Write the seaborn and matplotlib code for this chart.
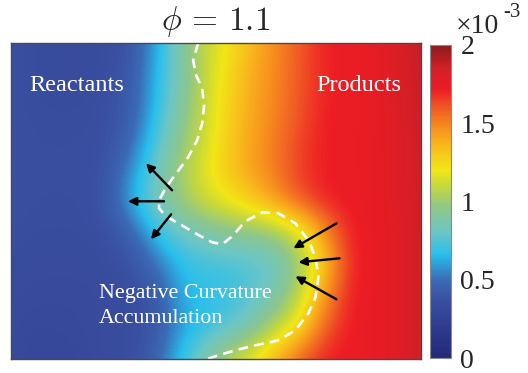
import numpy as np
import matplotlib
matplotlib.use("Agg")
import matplotlib.pyplot as plt
from matplotlib.colors import LinearSegmentedColormap
import seaborn as sns

# ---------------------------------------------------------------------------
# Sampled field (values in units of 1e-3) on a regular grid
# ---------------------------------------------------------------------------
x_nodes = [11, 35, 59, 83, 107, 131, 155, 179, 203, 227, 252, 276, 300, 324, 348, 372, 396, 420]
y_nodes = [43, 75, 106, 138, 169, 201, 233, 264, 296, 327, 359]

row_043 = [0.37, 0.35, 0.34, 0.34, 0.35, 0.39, 0.60, 0.88, 1.09, 1.20, 1.36, 1.48, 1.60, 1.71, 1.73, 1.74, 1.79, 1.90]
row_075 = [0.37, 0.35, 0.34, 0.34, 0.36, 0.42, 0.64, 0.86, 1.09, 1.25, 1.39, 1.49, 1.61, 1.70, 1.73, 1.74, 1.79, 1.88]
row_106 = [0.37, 0.35, 0.35, 0.35, 0.37, 0.43, 0.65, 0.90, 1.10, 1.27, 1.40, 1.50, 1.61, 1.71, 1.73, 1.74, 1.79, 1.88]
row_138 = [0.37, 0.36, 0.36, 0.36, 0.37, 0.47, 0.72, 0.95, 1.12, 1.28, 1.42, 1.52, 1.64, 1.72, 1.73, 1.74, 1.78, 1.87]
row_169 = [0.37, 0.36, 0.36, 0.36, 0.38, 0.57, 0.80, 1.02, 1.16, 1.31, 1.43, 1.53, 1.66, 1.72, 1.73, 1.74, 1.78, 1.86]
row_201 = [0.37, 0.36, 0.36, 0.36, 0.40, 0.64, 0.84, 0.99, 1.12, 1.20, 1.30, 1.45, 1.60, 1.71, 1.73, 1.74, 1.78, 1.86]
row_233 = [0.36, 0.35, 0.35, 0.35, 0.37, 0.45, 0.68, 0.80, 0.87, 0.93, 0.95, 1.00, 1.15, 1.45, 1.71, 1.74, 1.77, 1.86]
row_264 = [0.35, 0.34, 0.34, 0.34, 0.35, 0.38, 0.50, 0.66, 0.71, 0.72, 0.75, 0.80, 1.00, 1.30, 1.68, 1.74, 1.77, 1.86]
row_296 = [0.34, 0.33, 0.33, 0.33, 0.34, 0.35, 0.40, 0.62, 0.68, 0.69, 0.76, 0.88, 1.08, 1.45, 1.71, 1.74, 1.77, 1.86]
row_327 = [0.33, 0.32, 0.32, 0.33, 0.34, 0.35, 0.40, 0.58, 0.68, 0.76, 0.88, 1.06, 1.25, 1.58, 1.72, 1.74, 1.77, 1.86]
row_359 = [0.33, 0.31, 0.31, 0.32, 0.34, 0.36, 0.45, 0.68, 0.88, 1.08, 1.20, 1.40, 1.60, 1.72, 1.73, 1.74, 1.77, 1.86]

# Flame front (iso-line of progress variable)
front_x = [198, 193, 196, 202, 204, 202, 197, 188, 177, 166, 159, 159, 166, 180, 197, 212, 222,
           232, 245, 262, 278, 295, 308, 315, 318, 315, 308, 295, 278, 255, 235, 215, 206]
front_y = [43, 60, 75, 88, 105, 123, 140, 157, 172, 187, 200, 208, 216, 224, 234, 242, 244,
           236, 221, 212, 213, 223, 240, 257, 277, 297, 313, 330, 340, 345, 350, 356, 359]

# Propagation direction arrows (tail -> head)
arrow_tail_x = [172, 164, 171, 336, 339, 336]
arrow_tail_y = [190, 201, 214, 223, 258, 299]
arrow_head_x = [146, 128, 151, 293, 298, 295]
arrow_head_y = [163, 201, 239, 248, 262, 276]

cbar_ticks = [0, 0.5, 1, 1.5, 2]
cbar_ticklabels = ["0", "0.5", "1", "1.5", "2"]
title_text = r"$\phi\,=\,1.1$"

# ---------------------------------------------------------------------------
sns.set_style("white")
plt.rcParams["font.family"] = "serif"
plt.rcParams["font.serif"] = ["Liberation Serif", "Times New Roman", "DejaVu Serif"]
plt.rcParams["mathtext.fontset"] = "cm"
plt.rcParams["lines.scale_dashes"] = False

cmap = LinearSegmentedColormap.from_list(
    "flame",
    [(0.00, "#24287a"), (0.08, "#2c3889"), (0.18, "#3a4ea0"), (0.25, "#3b6cb6"),
     (0.33, "#28bfed"), (0.40, "#6bc6c6"), (0.48, "#8ec78a"), (0.55, "#c6d83c"),
     (0.60, "#f1e617"), (0.67, "#f8bf1b"), (0.73, "#f7941d"), (0.80, "#f05a24"),
     (0.86, "#ed1c24"), (0.93, "#d01f27"), (1.00, "#8a1b1d")],
)

W, H = 528, 373
fig = plt.figure(figsize=(W / 100, H / 100), dpi=100)
ax = fig.add_axes([10.7 / W, 1 - 359.3 / H, 410 / W, 316 / H])
cax = fig.add_axes([430 / W, 1 - 358 / H, 20.7 / W, 313 / H])

field = np.array([row_043, row_075, row_106, row_138, row_169, row_201,
                  row_233, row_264, row_296, row_327, row_359])
dx = (x_nodes[-1] - x_nodes[0]) / (len(x_nodes) - 1)
dy = (y_nodes[-1] - y_nodes[0]) / (len(y_nodes) - 1)
img = ax.imshow(field, cmap=cmap, vmin=0, vmax=2, interpolation="bicubic",
                origin="upper", aspect="auto",
                extent=(x_nodes[0] - dx / 2, x_nodes[-1] + dx / 2,
                        y_nodes[-1] + dy / 2, y_nodes[0] - dy / 2))

# dashed flame front
sns.lineplot(x=front_x, y=front_y, sort=False, estimator=None, color="white",
             linewidth=1.9, ax=ax)
ax.lines[-1].set_dashes([7, 4.5])
ax.lines[-1].set_dash_capstyle("butt")

for tx, ty, hx, hy in zip(arrow_tail_x, arrow_tail_y, arrow_head_x, arrow_head_y):
    ax.annotate("", xy=(hx, hy), xytext=(tx, ty),
                arrowprops=dict(arrowstyle="-|>", color="black", lw=1.7,
                                mutation_scale=12, shrinkA=0, shrinkB=0))

ax.text(30, 90.5, "Reactants", color="white", fontsize=17.5, va="baseline")
ax.text(316, 90.5, "Products", color="white", fontsize=17.5, va="baseline")
ax.text(99, 298, "Negative Curvature", color="white", fontsize=15.8, va="baseline")
ax.text(99, 323, "Accumulation", color="white", fontsize=15.8, va="baseline")

ax.set_xlim(11, 420)
ax.set_ylim(359, 43)
ax.set_xticks([])
ax.set_yticks([])
for sp in ax.spines.values():
    sp.set_color("#4a4a4a")
    sp.set_linewidth(1.0)

cb = fig.colorbar(img, cax=cax, ticks=cbar_ticks)
cb.ax.set_yticklabels(cbar_ticklabels)
cb.ax.tick_params(direction="in", length=4, width=0.8, color="#555555",
                  labelsize=20, pad=7, right=True, left=False)
cb.outline.set_edgecolor("#8a8a8a")
cb.outline.set_linewidth(0.8)

fig.text(456 / W, 1 - 33 / H, "\u00d710", fontsize=20, va="baseline")
fig.text(503 / W, 1 - 17 / H, "-3", fontsize=15, va="baseline")
fig.text(215.7 / W, 1 - 30 / H, title_text, fontsize=24, ha="center", va="baseline")

fig.savefig("out.png", dpi=100)
